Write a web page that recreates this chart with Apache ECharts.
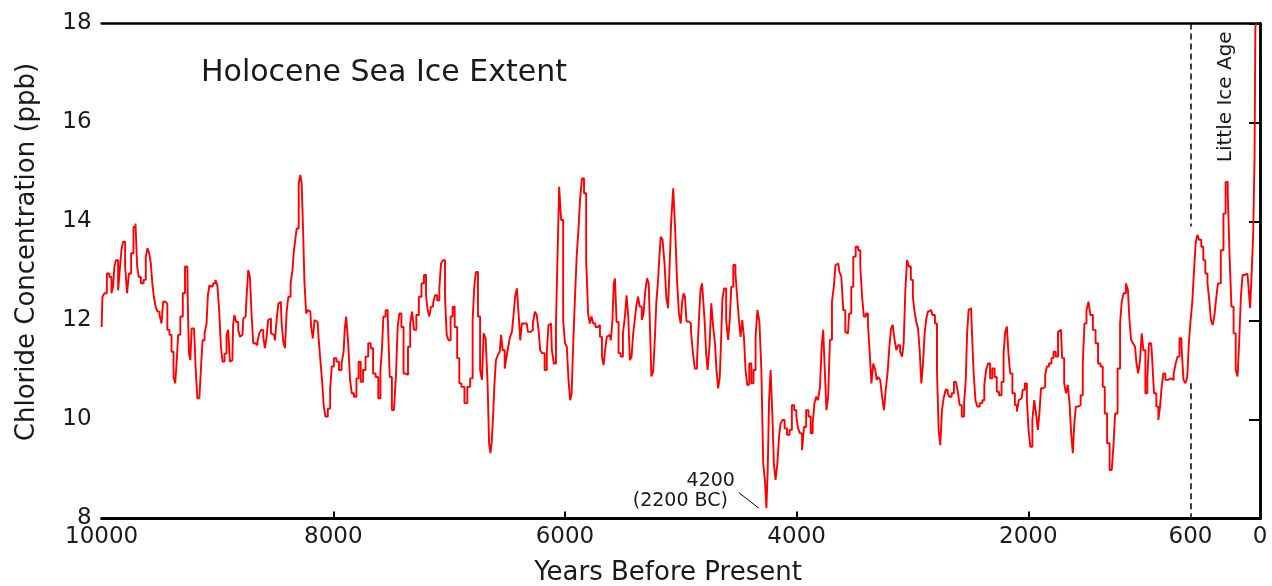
<!DOCTYPE html>
<html>
<head>
<meta charset="utf-8">
<title>Holocene Sea Ice Extent</title>
<script src="https://cdn.jsdelivr.net/npm/echarts@6.0.0/dist/echarts.min.js"></script>
<style>
  html, body { margin: 0; padding: 0; background: #fff; }
  #chart { width: 1272px; height: 586px; }
</style>
</head>
<body>
<div id="chart"></div>
<script>
// years before present
const years = [
  10000, 9985, 9966, 9943, 9922, 9908, 9894, 9885, 9865, 9850, 9836, 9822, 9807, 9787, 9773, 9755, 9735, 9715, 9700, 9686,
  9672, 9649, 9626, 9611, 9597, 9582, 9568, 9556, 9542, 9525, 9510, 9490, 9476, 9461, 9441, 9424, 9404, 9389, 9369, 9360,
  9346, 9332, 9309, 9289, 9271, 9260, 9251, 9240, 9228, 9217, 9202, 9193, 9182, 9165, 9147, 9136, 9121, 9101, 9087, 9078,
  9061, 9044, 9026, 9009, 8992, 8977, 8963, 8949, 8928, 8914, 8900, 8885, 8871, 8859, 8848, 8828, 8813, 8799, 8784, 8770,
  8756, 8741, 8727, 8712, 8698, 8684, 8663, 8646, 8632, 8612, 8597, 8583, 8568, 8557, 8545, 8531, 8511, 8496, 8482, 8467,
  8453, 8439, 8424, 8410, 8395, 8381, 8356, 8348, 8336, 8325, 8307, 8290, 8279, 8267, 8256, 8241, 8227, 8213, 8198, 8184,
  8169, 8155, 8135, 8118, 8103, 8089, 8077, 8060, 8034, 8020, 8006, 7983, 7963, 7940, 7917, 7905, 7896, 7882, 7862, 7848,
  7833, 7810, 7790, 7773, 7753, 7733, 7710, 7687, 7667, 7646, 7623, 7600, 7586, 7575, 7560, 7537, 7523, 7503, 7485, 7468,
  7451, 7437, 7422, 7402, 7385, 7365, 7345, 7327, 7313, 7293, 7273, 7250, 7227, 7207, 7192, 7178, 7164, 7149, 7129, 7115,
  7092, 7077, 7063, 7043, 7028, 7014, 6997, 6977, 6962, 6942, 6919, 6905, 6882, 6853, 6833, 6804, 6790, 6776, 6761, 6741,
  6724, 6709, 6695, 6675, 6661, 6649, 6638, 6626, 6615, 6603, 6589, 6569, 6557, 6546, 6529, 6511, 6497, 6483, 6465, 6451,
  6439, 6422, 6408, 6393, 6379, 6365, 6330, 6310, 6287, 6267, 6253, 6235, 6221, 6207, 6187, 6164, 6149, 6135, 6120, 6106,
  6086, 6069, 6057, 6043, 6023, 6008, 5991, 5977, 5962, 5948, 5937, 5922, 5908, 5890, 5876, 5862, 5844, 5827, 5807, 5793,
  5778, 5764, 5747, 5727, 5707, 5689, 5672, 5661, 5646, 5632, 5612, 5597, 5583, 5574, 5563, 5546, 5528, 5511, 5488, 5477,
  5459, 5448, 5431, 5419, 5405, 5390, 5376, 5362, 5347, 5327, 5316, 5299, 5284, 5270, 5261, 5247, 5229, 5218, 5204, 5192,
  5181, 5166, 5149, 5132, 5117, 5103, 5091, 5074, 5057, 5040, 5025, 5008, 4994, 4982, 4971, 4957, 4945, 4922, 4902, 4888,
  4870, 4850, 4836, 4824, 4810, 4799, 4787, 4776, 4761, 4744, 4730, 4712, 4698, 4686, 4669, 4658, 4646, 4635, 4617, 4600,
  4583, 4572, 4557, 4537, 4520, 4505, 4491, 4477, 4462, 4448, 4434, 4419, 4399, 4382, 4362, 4347, 4330, 4313, 4296, 4281,
  4267, 4255, 4244, 4232, 4218, 4204, 4189, 4175, 4158, 4146, 4132, 4112, 4095, 4071, 4051, 4031, 4011, 3994, 3980, 3962,
  3945, 3928, 3908, 3888, 3870, 3853, 3839, 3824, 3807, 3790, 3778, 3764, 3750, 3735, 3721, 3704, 3686, 3672, 3658, 3640,
  3623, 3606, 3589, 3571, 3557, 3537, 3520, 3502, 3479, 3459, 3442, 3428, 3411, 3393, 3376, 3362, 3347, 3330, 3313, 3304,
  3287, 3270, 3255, 3238, 3224, 3207, 3192, 3178, 3163, 3146, 3132, 3117, 3097, 3083, 3069, 3054, 3040, 3023, 3005, 2988,
  2977, 2959, 2945, 2931, 2916, 2902, 2888, 2873, 2859, 2839, 2816, 2796, 2781, 2767, 2753, 2738, 2724, 2704, 2689, 2672,
  2652, 2632, 2617, 2600, 2586, 2563, 2546, 2534, 2523, 2508, 2494, 2479, 2465, 2448, 2431, 2408, 2387, 2373, 2356, 2339,
  2321, 2301, 2281, 2264, 2241, 2221, 2206, 2192, 2178, 2163, 2149, 2126, 2106, 2091, 2074, 2057, 2040, 2020, 2005, 1991,
  1974, 1956, 1942, 1925, 1910, 1899, 1882, 1862, 1847, 1833, 1810, 1790, 1775, 1752, 1735, 1718, 1698, 1683, 1666, 1652,
  1637, 1623, 1609, 1597, 1583, 1560, 1537, 1523, 1508, 1488, 1474, 1454, 1431, 1408, 1388, 1365, 1350, 1330, 1310, 1287,
  1273, 1258, 1244, 1215, 1201, 1186, 1169, 1146, 1135, 1120, 1106, 1086, 1072, 1060, 1043, 1028, 1014, 1000, 979, 965,
  951, 939, 925, 905, 885, 870, 856, 842, 827, 807, 784, 755, 735, 721, 704, 686, 669, 652, 635, 620,
  609, 594, 577, 563, 548, 534, 517, 497, 482, 462, 445, 431, 416, 402, 387, 373, 353, 324, 307, 287,
  270, 255, 238, 218, 201, 186, 172, 158, 143, 123, 109, 94, 77, 66, 51, 43, 37, 25
];

// chloride concentration (ppb)
const chloride = [
  11.87, 12.48, 12.55, 12.95, 12.88, 12.55, 12.68, 13.09, 13.22, 12.61, 13.02, 13.42, 13.59, 13.09, 12.55, 12.95, 13.36, 13.89, 13.96, 13.09,
  12.88, 12.75, 12.82, 13.29, 13.46, 13.36, 13.15, 12.75, 12.48, 12.28, 12.18, 12.11, 11.94, 12.38, 12.34, 11.81, 11.71, 11.37, 10.86, 10.73,
  11.13, 11.71, 12.08, 12.55, 13.09, 13.09, 12.28, 11.33, 11.20, 11.84, 11.84, 11.60, 11.00, 10.43, 10.46, 11.07, 11.60, 11.74, 11.94, 12.51,
  12.71, 12.68, 12.75, 12.82, 12.71, 12.18, 11.47, 11.17, 11.33, 11.71, 11.81, 11.17, 11.20, 11.91, 12.11, 11.97, 11.81, 11.67, 11.71, 12.04,
  12.08, 12.48, 13.02, 12.88, 12.11, 11.54, 11.50, 11.57, 11.74, 11.81, 11.67, 11.44, 11.67, 12.01, 12.04, 11.74, 11.71, 11.60, 12.01, 12.34,
  12.38, 11.94, 11.57, 11.44, 12.18, 12.48, 12.75, 13.02, 13.36, 13.59, 13.86, 14.77, 14.94, 14.77, 13.89, 12.75, 12.14, 12.21, 12.18, 11.87,
  11.64, 12.01, 11.97, 11.64, 11.17, 10.76, 10.29, 10.06, 10.22, 10.63, 11.07, 11.24, 11.17, 11.00, 11.13, 11.37, 11.84, 12.08, 11.57, 10.80,
  10.53, 10.46, 10.83, 11.17, 10.76, 11.00, 11.27, 11.54, 11.44, 10.93, 10.86, 10.43, 11.00, 11.40, 12.08, 12.21, 12.08, 10.86, 10.19, 10.16,
  10.86, 11.87, 12.14, 11.87, 10.93, 10.90, 11.47, 11.94, 12.18, 11.81, 12.11, 12.48, 12.75, 12.92, 12.51, 12.21, 12.08, 12.28, 12.34, 12.51,
  12.41, 12.65, 13.15, 13.22, 12.48, 11.71, 11.60, 12.08, 12.28, 11.87, 11.24, 10.73, 10.66, 10.33, 10.66, 10.83, 12.01, 12.68, 12.98, 12.08,
  11.00, 10.80, 11.74, 11.64, 10.73, 9.52, 9.32, 9.55, 10.06, 10.70, 11.20, 11.30, 11.37, 11.71, 11.40, 11.03, 11.27, 11.47, 11.67, 11.77,
  12.08, 12.48, 12.65, 12.14, 11.60, 11.94, 11.94, 11.77, 11.81, 11.94, 12.18, 12.11, 11.81, 11.40, 11.34, 11.00, 11.37, 11.91, 11.94, 11.40,
  11.13, 11.94, 13.42, 14.70, 14.03, 12.01, 11.54, 11.47, 10.80, 10.39, 10.53, 11.47, 12.38, 13.29, 13.86, 14.47, 14.87, 14.57, 13.22, 12.14,
  11.94, 12.08, 11.94, 11.87, 11.91, 11.67, 11.27, 11.10, 11.40, 11.67, 11.71, 11.60, 12.01, 12.75, 12.85, 11.97, 11.34, 11.27, 11.74, 12.08,
  12.51, 12.08, 11.20, 11.27, 11.71, 12.01, 12.31, 12.48, 12.28, 12.01, 12.14, 12.58, 12.85, 12.75, 11.84, 10.87, 10.97, 11.67, 12.38, 12.75,
  13.22, 13.69, 13.63, 13.15, 12.45, 12.25, 13.09, 14.03, 14.67, 13.83, 12.82, 12.14, 11.94, 12.38, 12.55, 12.48, 11.98, 11.94, 11.77, 11.34,
  11.03, 11.20, 12.04, 12.62, 12.75, 12.35, 11.94, 11.34, 11.00, 11.47, 12.35, 11.88, 11.54, 11.00, 10.63, 10.86, 11.61, 12.45, 12.65, 12.01,
  11.61, 12.01, 12.68, 13.12, 12.95, 12.45, 12.01, 11.67, 12.01, 11.67, 11.00, 10.70, 11.13, 10.73, 11.00, 11.67, 12.21, 11.98, 11.00, 9.11,
  8.78, 8.21, 8.98, 10.39, 11.00, 10.19, 9.11, 8.78, 9.11, 9.65, 9.92, 9.99, 9.82, 9.69, 9.79, 10.29, 10.19, 10.06, 9.82, 9.72,
  9.38, 9.85, 10.19, 10.06, 9.72, 9.92, 10.33, 10.46, 10.39, 10.66, 11.47, 11.81, 11.00, 10.19, 10.46, 11.61, 12.38, 12.68, 13.12, 13.15,
  12.99, 12.89, 12.21, 11.77, 11.74, 12.14, 12.68, 13.29, 13.49, 13.42, 13.09, 12.48, 12.08, 12.14, 11.94, 11.34, 10.73, 11.13, 11.00, 10.80,
  10.86, 10.80, 10.46, 10.19, 10.60, 10.93, 11.47, 11.84, 11.91, 11.61, 11.40, 11.50, 11.37, 11.27, 11.54, 12.62, 13.22, 13.09, 12.82, 12.48,
  12.18, 11.98, 11.84, 11.40, 10.73, 11.13, 11.74, 12.04, 12.18, 12.21, 12.11, 11.94, 10.97, 9.79, 9.48, 10.19, 10.43, 10.60, 10.53, 10.46,
  10.53, 10.76, 10.73, 10.56, 10.29, 10.06, 10.33, 10.80, 11.74, 12.21, 12.25, 11.77, 10.93, 10.39, 10.26, 10.33, 10.39, 10.70, 11.00, 11.13,
  10.83, 11.03, 10.86, 10.56, 10.49, 10.76, 11.34, 11.77, 11.88, 11.30, 10.93, 10.53, 10.29, 10.16, 10.39, 10.43, 10.60, 10.73, 10.39, 9.79,
  9.45, 9.99, 10.39, 10.12, 9.79, 10.12, 10.63, 10.66, 10.90, 11.07, 11.13, 11.24, 11.37, 11.27, 11.77, 11.81, 11.24, 10.73, 10.53, 10.70,
  10.33, 9.72, 9.32, 9.92, 10.26, 10.29, 10.49, 11.13, 11.94, 12.21, 12.38, 12.11, 11.81, 11.54, 11.13, 11.07, 10.66, 10.12, 9.52, 8.98,
  8.95, 9.45, 10.12, 11.03, 11.94, 12.38, 12.55, 12.75, 12.62, 12.04, 11.61, 11.54, 11.47, 11.13, 10.93, 11.20, 11.74, 11.40, 10.53, 10.87,
  11.54, 11.54, 11.27, 10.53, 10.26, 9.99, 10.26, 10.66, 10.93, 10.80, 10.83, 10.80, 10.93, 11.13, 11.27, 11.64, 11.47, 10.80, 10.73, 10.87,
  11.54, 11.94, 12.35, 12.99, 13.56, 13.73, 13.63, 13.49, 13.22, 12.95, 12.75, 12.41, 12.01, 11.91, 12.08, 12.41, 12.75, 13.42, 14.16, 14.80,
  14.57, 13.29, 12.28, 11.74, 11.00, 10.87, 11.61, 12.48, 12.92, 12.89, 12.95, 12.75, 12.25, 12.99, 13.76, 15.31, 17.94, 18.00
];

const xLabelValues = [10000, 8000, 6000, 4000, 2000, 600, 0];
const xTickValues = [8000, 6000, 4000, 2000];
const littleIceAgeYear = 600;

const fontFamily = 'DejaVu Sans';
const textColor = '#1a1a1a';

const chart = echarts.init(document.getElementById('chart'));

const option = {
  animation: false,
  backgroundColor: '#fff',
  title: {
    text: 'Holocene Sea Ice Extent',
    left: 201,
    top: 58,
    padding: 0,
    textStyle: { fontFamily, fontSize: 30, fontWeight: 'normal', color: textColor }
  },
  grid: { left: 101.6, right: 12, top: 23.5, bottom: 67.5 },
  xAxis: [
    {
      type: 'value',
      min: 0,
      max: 10000,
      interval: 2000,
      inverse: true,
      axisLine: { lineStyle: { color: '#000', width: 3 } },
      axisTick: { inside: true, length: 7, customValues: xTickValues, lineStyle: { color: '#000', width: 2 } },
      axisLabel: {
        customValues: xLabelValues,
        formatter: (v) => String(v),
        fontFamily, fontSize: 23, color: textColor, margin: 7
      },
      splitLine: { show: false }
    },
    {
      type: 'value',
      position: 'top',
      min: 0,
      max: 10000,
      inverse: true,
      axisLine: { show: true, lineStyle: { color: '#000', width: 2.5 } },
      axisTick: { show: false },
      axisLabel: { show: false },
      splitLine: { show: false }
    }
  ],
  yAxis: [
    {
      type: 'value',
      min: 8,
      max: 18,
      interval: 2,
      axisLine: { show: true, lineStyle: { color: '#000', width: 2.5 } },
      axisTick: { show: false },
      axisLabel: { fontFamily, fontSize: 23, color: textColor, margin: 10 },
      splitLine: { show: false }
    },
    {
      type: 'value',
      position: 'right',
      min: 8,
      max: 18,
      interval: 2,
      axisLine: { show: true, lineStyle: { color: '#000', width: 2.5 } },
      axisTick: { show: true, inside: true, length: 11, lineStyle: { color: '#000', width: 2 } },
      axisLabel: { show: false },
      splitLine: { show: false }
    }
  ],
  series: [
    {
      name: 'Chloride',
      type: 'line',
      data: years.map((y, i) => [y, chloride[i]]),
      showSymbol: false,
      step: 'middle',
      clip: true,
      lineStyle: { color: '#ff0000', width: 1.9 },
      markLine: {
        silent: true,
        symbol: 'none',
        label: { show: false },
        data: [
          [{ coord: [littleIceAgeYear, 18], lineStyle: { type: [6, 4], width: 1.5, color: '#000' } }, { coord: [littleIceAgeYear, 13.9] }],
          [{ coord: [littleIceAgeYear, 10.73], lineStyle: { type: [6, 4], width: 1.5, color: '#000' } }, { coord: [littleIceAgeYear, 8] }],
          [{ coord: [4498, 8.52], lineStyle: { type: 'solid', width: 1, color: '#000' } }, { coord: [4326, 8.21] }]
        ]
      }
    }
  ]
};

chart.setOption(option);

// annotations anchored in data units
const toPx = (x, y) => chart.convertToPixel({ gridIndex: 0 }, [x, y]);
const pLia = toPx(294, 16.52);
const p4200 = toPx(4533, 8.75);
const pBC = toPx(4593, 8.36);

chart.setOption({
  graphic: [
    {
      type: 'text', x: 27, y: 252, rotation: Math.PI / 2,
      style: { text: 'Chloride Concentration (ppb)', font: '26px "DejaVu Sans"', fill: textColor, align: 'center', verticalAlign: 'middle' }
    },
    {
      type: 'text', x: 668, y: 573,
      style: { text: 'Years Before Present', font: '26px "DejaVu Sans"', fill: textColor, align: 'center', verticalAlign: 'middle' }
    },
    {
      type: 'text', x: pLia[0], y: pLia[1], rotation: Math.PI / 2,
      style: { text: 'Little Ice Age', font: '20px "DejaVu Sans"', fill: textColor, align: 'center', verticalAlign: 'middle' }
    },
    {
      type: 'text', x: p4200[0], y: p4200[1],
      style: { text: '4200', font: '19px "DejaVu Sans"', fill: textColor, align: 'right', verticalAlign: 'middle' }
    },
    {
      type: 'text', x: pBC[0], y: pBC[1],
      style: { text: '(2200 BC)', font: '19px "DejaVu Sans"', fill: textColor, align: 'right', verticalAlign: 'middle' }
    }
  ]
});
</script>
</body>
</html>
